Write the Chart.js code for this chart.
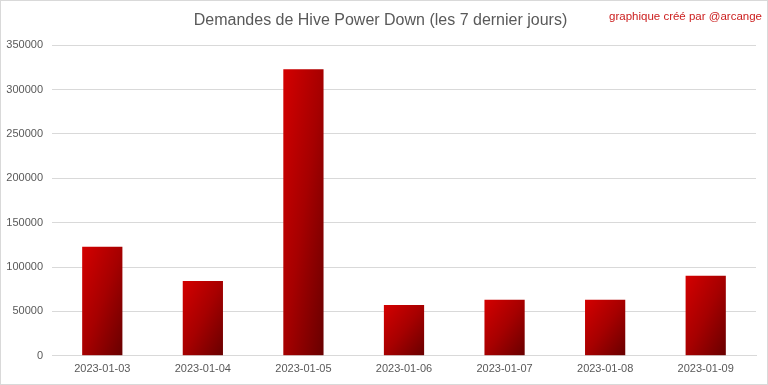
<!DOCTYPE html>
<html>
<head>
<meta charset="utf-8">
<script src="https://cdn.jsdelivr.net/npm/chart.js@4/dist/chart.umd.min.js"></script>
<style>
  html, body { margin: 0; padding: 0; background: #fff; }
  #wrap { position: relative; width: 768px; height: 385px; box-sizing: border-box; border: 1px solid #d9d9d9; }
  canvas { display: block; }
</style>
</head>
<body>
<div id="wrap"><canvas id="c" width="766" height="383"></canvas></div>
<script>
const titleText = "Demandes de Hive Power Down (les 7 dernier jours)";
const creditText = "graphique créé par @arcange";
const categories = ["2023-01-03", "2023-01-04", "2023-01-05", "2023-01-06", "2023-01-07", "2023-01-08", "2023-01-09"];
const powerDowns = [123000, 84300, 323000, 57200, 63200, 63200, 90300];
const yTicks = [0, 50000, 100000, 150000, 200000, 250000, 300000, 350000];

const FONT = "'Liberation Sans', Arial, sans-serif";

function barGradient(ctx) {
  const chart = ctx.chart;
  if (!chart.chartArea || ctx.type !== 'data') return '#b00000';
  const meta = chart.getDatasetMeta(ctx.datasetIndex);
  const el = meta.data[ctx.dataIndex];
  const xs = chart.scales.x, ys = chart.scales.y;
  const cx = xs.getPixelForValue(ctx.dataIndex);
  const catW = xs.width / categories.length;
  const w = el && el.width ? el.width : catW * 0.4;
  const x0 = cx - w / 2;
  const y0 = ys.getPixelForValue(powerDowns[ctx.dataIndex]);
  const h = Math.max(1, ys.getPixelForValue(0) - y0);
  const s = 2 * w * h / (w * w + h * h);
  const g = chart.ctx.createLinearGradient(x0, y0, x0 + s * h, y0 + s * w);
  g.addColorStop(0, '#d40000');
  g.addColorStop(0.5, '#a60000');
  g.addColorStop(1, '#680000');
  return g;
}

const credit = {
  id: 'credit',
  afterDraw(chart) {
    const c = chart.ctx;
    c.save();
    c.font = "11.5px " + FONT;
    c.fillStyle = '#cc2020';
    c.textAlign = 'right';
    c.textBaseline = 'middle';
    c.fillText(creditText, 761, 16);
    c.restore();
  }
};

new Chart(document.getElementById('c'), {
  type: 'bar',
  data: {
    labels: categories,
    datasets: [{
      data: powerDowns,
      backgroundColor: barGradient,
      borderWidth: 0,
      categoryPercentage: 0.8,
      barPercentage: 0.5
    }]
  },
  options: {
    responsive: false,
    animation: false,
    layout: { padding: { left: 4, right: 11, top: 0, bottom: 1 } },
    plugins: {
      legend: { display: false },
      tooltip: { enabled: false },
      title: {
        display: true,
        text: titleText,
        color: '#595959',
        font: { family: FONT, size: 16, weight: 'normal' },
        padding: { top: 10, bottom: 15 }
      }
    },
    scales: {
      x: {
        grid: { display: false, drawTicks: false },
        border: { display: true, color: '#d9d9d9', width: 1 },
        ticks: { color: '#595959', font: { family: FONT, size: 11 }, padding: 7, maxRotation: 0 }
      },
      y: {
        min: 0, max: 350000,
        afterBuildTicks(scale) { scale.ticks = yTicks.map(v => ({ value: v })); },
        afterFit(scale) { scale.width = 47; },
        grid: { color: '#d9d9d9', drawTicks: false },
        border: { display: false },
        ticks: { color: '#595959', font: { family: FONT, size: 11 }, padding: 9, callback: v => String(v) }
      }
    }
  },
  plugins: [credit]
});
</script>
</body>
</html>
